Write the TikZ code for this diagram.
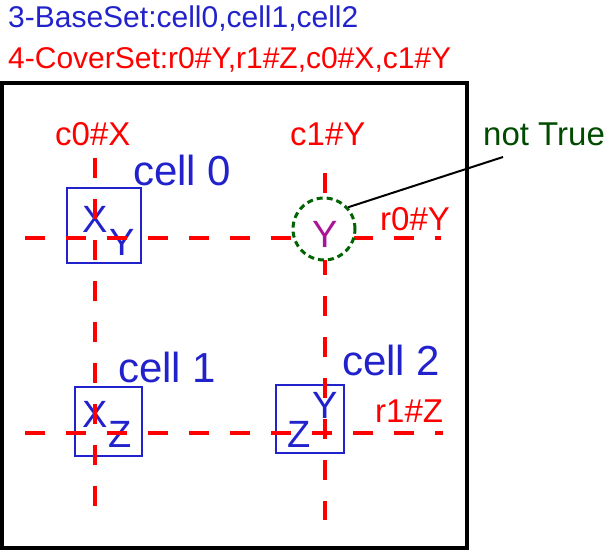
\documentclass[tikz,border=0pt]{standalone}
\usepackage{fontspec}
\setmainfont{Liberation Sans}
\usepackage{tikz}
\usetikzlibrary{positioning}
\definecolor{setblue}{RGB}{34,34,204}
\definecolor{setred}{RGB}{255,0,0}
\definecolor{notgreen}{RGB}{0,75,0}
\definecolor{ringgreen}{RGB}{0,100,0}
\definecolor{mixed}{RGB}{170,20,150}

\begin{document}
\begin{tikzpicture}[x=1pt, y=-1pt,
    head/.style={anchor=base west, inner sep=0pt, font=\fontsize{30}{33}\selectfont},
    lbl/.style={anchor=base west, inner sep=0pt, text=setred, font=\fontsize{33}{36}\selectfont},
    cellname/.style={anchor=base west, inner sep=0pt, text=setblue, font=\fontsize{42}{46}\selectfont},
    sym/.style={anchor=base, inner sep=0pt, text=setblue, font=\fontsize{38}{42}\selectfont},
    cellbox/.style={draw=setblue, line width=1.5pt, inner sep=0pt},
    cover/.style={setred, line width=4pt, dash pattern=on 20pt off 21pt}]
    \useasboundingbox (0,0) rectangle (610,551);

    % Header
    \node[head, text=setblue] (baseset) at (8,28) {3-BaseSet:cell0,cell1,cell2};
    \node[head, text=setred] (coverset) at (8,68) {4-CoverSet:r0\#Y,r1\#Z,c0\#X,c1\#Y};

    % Frame
    \draw[line width=3.5pt] (2,83) rectangle (467,548);

    % Cells
    \node[cellbox, minimum width=74pt, minimum height=75pt] (box0) at (104,225.5) {};
    \node[cellbox, minimum width=67pt, minimum height=69pt] (box1) at (108.5,421.5) {};
    \node[cellbox, minimum width=68pt, minimum height=68pt] (box2) at (310,419) {};
    \node[sym] (x0) at (95,232) {X};
    \node[sym] (y0) at (122,255) {Y};
    \node[sym] (x1) at (95,427) {X};
    \node[sym] (z1) at (120,447) {Z};
    \node[sym] (y2) at (325,418) {Y};
    \node[sym] (z2) at (299,447) {Z};
    \node[cellname] (cell0) at (133,185) {cell 0};
    \node[cellname] (cell1) at (118,382) {cell 1};
    \node[cellname] (cell2) at (342,375) {cell 2};

    % Cover lines
    \coordinate (r0w) at (25,238);
    \coordinate (r0e) at (441,238);
    \coordinate (r1w) at (25,433);
    \coordinate (r1e) at (443,433);
    \coordinate (c0n) at (95,158);
    \coordinate (c0s) at (95,512);
    \coordinate (c1n) at (325,173);
    \coordinate (c1s) at (325,520);
    \draw[cover] (r0w) -- (r0e);
    \draw[cover] (r1w) -- (r1e);
    \draw[cover] (c0n) -- (c0s);
    \draw[cover] (c1n) -- (c1s);
    \node[lbl] (c0lbl) at (55,145) {c0\#X};
    \node[lbl] (c1lbl) at (290,145) {c1\#Y};
    \node[lbl] (r0lbl) at (380,230) {r0\#Y};
    \node[lbl] (r1lbl) at (375,422) {r1\#Z};

    % Conflict
    \node[draw=ringgreen, fill=white, circle, line width=3pt, dash pattern=on 6pt off 4pt,
          minimum size=62pt, inner sep=0pt] (ring) at (324,229) {};
    \node[sym, text=mixed] (yr) at (325,247) {Y};
    \node[lbl, text=notgreen] (note) at (483,145) {not True};
    \coordinate (notetip) at (503,157);
    \draw[line width=2pt] (notetip) -- (ring.42);
\end{tikzpicture}
\end{document}
